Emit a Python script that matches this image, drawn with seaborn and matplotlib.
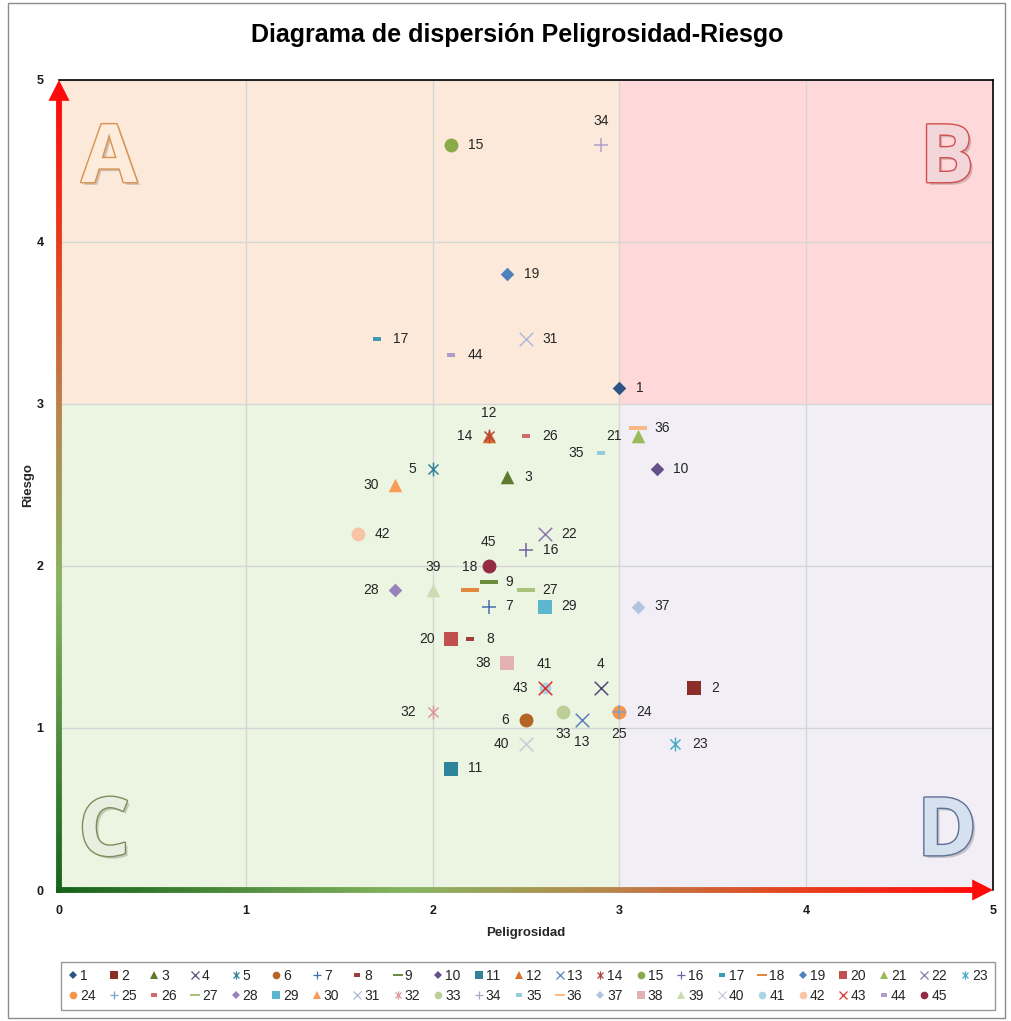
import numpy as np
import pandas as pd
import matplotlib
matplotlib.use("Agg")
import matplotlib.pyplot as plt
import seaborn as sns
from matplotlib.collections import LineCollection
from matplotlib.colors import LinearSegmentedColormap
from matplotlib.lines import Line2D
from matplotlib.path import Path
from matplotlib.patches import Rectangle
import matplotlib.patheffects as pe

# ---------------- data ----------------
ids = list(range(1, 46))
peligrosidad = [3.0, 3.4, 2.4, 2.9, 2.0, 2.5, 2.3, 2.2, 2.3, 3.2,
                2.1, 2.3, 2.8, 2.3, 2.1, 2.5, 1.7, 2.2, 2.4, 2.1,
                3.1, 2.6, 3.3, 3.0, 3.0, 2.5, 2.5, 1.8, 2.6, 1.8,
                2.5, 2.0, 2.7, 2.9, 2.9, 3.1, 3.1, 2.4, 2.0, 2.5,
                2.6, 1.6, 2.6, 2.1, 2.3]
riesgo = [3.1, 1.25, 2.55, 1.25, 2.6, 1.05, 1.75, 1.55, 1.9, 2.6,
          0.75, 2.8, 1.05, 2.8, 4.6, 2.1, 3.4, 1.85, 3.8, 1.55,
          2.8, 2.2, 0.9, 1.1, 1.1, 2.8, 1.85, 1.85, 1.75, 2.5,
          3.4, 1.1, 1.1, 4.6, 2.7, 2.85, 1.75, 1.4, 1.85, 0.9,
          1.25, 2.2, 1.25, 3.3, 2.0]
marker_kind = ["D", "s", "^", "x", "star", "o", "+", "dash", "ldash",
               "D", "s", "^", "x", "star", "o", "+", "dash", "ldash",
               "D", "s", "^", "x", "star", "o", "+", "dash", "ldash",
               "D", "s", "^", "x", "star", "o", "+", "dash", "ldash",
               "D", "s", "^", "x", "o", "o", "x", "dash", "o"]
colors = ["#2E5486", "#8C2D2A", "#5F7A2F", "#5A4A78", "#31859C", "#B66425",
          "#4470AA", "#A03C3A", "#6B8E3C", "#65508A", "#2F849C", "#D9712B",
          "#5B80BA", "#B5473F", "#8BAA4A", "#7962A0", "#3E9DB5", "#E3893F",
          "#4F81BD", "#C0504D", "#9BBB59", "#8E7AAD", "#4BACC6", "#F79646",
          "#7F9FD0", "#CD6C6A", "#A9C47A", "#9A82BB", "#5DB6D0", "#F89C58",
          "#AEBADB", "#DC9A98", "#BCCF98", "#AFA0CC", "#93CDDD", "#F9B88A",
          "#B3C4DE", "#E2B1B1", "#CDDBB3", "#CACAD8", "#A9D4E2", "#F8C3A6",
          "#E0312F", "#B09BCB", "#952A43"]
title = "Diagrama de dispersión Peligrosidad-Riesgo"
xlabel = "Peligrosidad"
ylabel = "Riesgo"
ticks = [0, 1, 2, 3, 4, 5]
quadrant_letters = ["A", "B", "C", "D"]

df = pd.DataFrame({"id": ids, "Peligrosidad": peligrosidad, "Riesgo": riesgo,
                   "kind": marker_kind, "color": colors})

# ---------------- styles ----------------
sns.set_style("white")
plt.rcParams["font.family"] = ["Liberation Sans", "DejaVu Sans"]

MO, LT = Path.MOVETO, Path.LINETO
star_path = Path([(0, -1), (0, 1), (-0.72, -0.72), (0.72, 0.72), (-0.72, 0.72), (0.72, -0.72)],
                 [MO, LT, MO, LT, MO, LT])
dash_path = Path([(-1, -0.45), (1, -0.45), (1, 0.45), (-1, 0.45), (-1, -0.45)],
                 [MO, LT, LT, LT, Path.CLOSEPOLY])
ldash_path = Path([(-1, -0.28), (1, -0.28), (1, 0.28), (-1, 0.28), (-1, -0.28)],
                  [MO, LT, LT, LT, Path.CLOSEPOLY])
mk = {"D": "D", "s": "s", "^": "^", "x": "x", "+": "+", "o": "o",
      "star": star_path, "dash": dash_path, "ldash": ldash_path}
msize = {"D": 48, "s": 100, "^": 95, "x": 95, "+": 95, "o": 100,
         "star": 100, "dash": 28, "ldash": 150}
mlw = {"D": 0, "s": 0, "^": 0, "x": 1.1, "+": 1.1, "o": 0,
       "star": 1.1, "dash": 0, "ldash": 0}
small_size = {41: 70}

label_pos = {5: "l", 6: "l", 14: "l", 20: "l", 21: "l", 28: "l", 30: "l", 32: "l",
             35: "l", 38: "l", 40: "l", 43: "l",
             4: "t", 12: "t", 18: "t", 34: "t", 39: "t", 41: "t", 45: "t",
             13: "b", 25: "b", 33: "b"}

W, H = 1012, 1021
fig = plt.figure(figsize=(W / 100, H / 100), dpi=100)
fig.patch.set_facecolor("white")
ax = fig.add_axes([59 / W, 131 / H, 934 / W, 810 / H])
ax.set_xlim(0, 5)
ax.set_ylim(0, 5)

# quadrant backgrounds
quad_colors = ["#FCE9DA", "#FFD9D9", "#EBF5E1", "#F1EFF5"]
quad_rects = [(0, 3, 3, 2), (3, 3, 2, 2), (0, 0, 3, 3), (3, 0, 2, 3)]
for (x0, y0, w, h), c in zip(quad_rects, quad_colors):
    ax.add_patch(Rectangle((x0, y0), w, h, facecolor=c, edgecolor="none", zorder=0))

ax.set_xticks(ticks)
ax.set_yticks(ticks)
ax.grid(True, color="#D6D6D6", linewidth=1)
ax.set_axisbelow(True)

# quadrant letters
letter_style = [
    ("A", 0.268, 4.37, "#FDEBDC", "#D9914E"),
    ("B", 4.754, 4.37, "#F3D6D9", "#D24E4E"),
    ("C", 0.241, 0.215, "#EAEEE1", "#7E8C5C"),
    ("D", 4.754, 0.215, "#D6E1EF", "#5C7093"),
]
for letter, lx, ly, fc, ec in letter_style:
    ax.text(lx, ly, letter, ha="center", va="baseline", fontsize=58, fontweight="bold",
            family=["Open Sans", "DejaVu Sans"], color=fc, zorder=1,
            path_effects=[pe.withSimplePatchShadow(offset=(2, -2), shadow_rgbFace="#000000", alpha=0.18),
                          pe.Stroke(linewidth=2.0, foreground=ec), pe.Normal()])

# scatter points
for _, r in df.iterrows():
    k = r["kind"]
    s = small_size.get(r["id"], msize[k])
    sns.scatterplot(x=[r["Peligrosidad"]], y=[r["Riesgo"]], marker=mk[k], s=s,
                    color=r["color"], edgecolor=r["color"], linewidth=mlw[k],
                    ax=ax, zorder=4, legend=False)

# data labels
for _, r in df.iterrows():
    p = label_pos.get(r["id"], "r")
    off = {"r": (12, 0), "l": (-12, 0), "t": (0, 17), "b": (0, -16)}[p]
    ha = {"r": "left", "l": "right", "t": "center", "b": "center"}[p]
    ax.annotate(str(r["id"]), (r["Peligrosidad"], r["Riesgo"]), xytext=off,
                textcoords="offset points", ha=ha, va="center", fontsize=10,
                color="#262626", zorder=5)

# spines
for s in ["left", "bottom"]:
    ax.spines[s].set_visible(False)
for s in ["top", "right"]:
    ax.spines[s].set_color("black")
    ax.spines[s].set_linewidth(1.2)

# gradient axes with arrows
cmap = LinearSegmentedColormap.from_list(
    "ax", [(0, "#16621A"), (0.38, "#86B560"), (0.6, "#B8864E"), (0.8, "#E5421F"), (1.0, "#FF0A0A")])
n = 200
yy = np.linspace(-0.02, 4.9, n)
segs = [[(0, yy[i]), (0, yy[i + 1])] for i in range(n - 1)]
lc = LineCollection(segs, colors=cmap(np.linspace(0, 1, n - 1)), linewidths=4.2,
                    clip_on=False, zorder=6, capstyle="butt")
ax.add_collection(lc)
xx = np.linspace(-0.015, 4.93, n)
segs = [[(xx[i], 0), (xx[i + 1], 0)] for i in range(n - 1)]
lc2 = LineCollection(segs, colors=cmap(np.linspace(0, 1, n - 1)), linewidths=4.2,
                     clip_on=False, zorder=6, capstyle="butt")
ax.add_collection(lc2)
ax.annotate("", xy=(0, 5), xytext=(0, 4.88),
            arrowprops=dict(arrowstyle="-|>,head_length=0.75,head_width=0.38", color="#FF0A0A",
                            lw=0, shrinkA=0, shrinkB=0, mutation_scale=20),
            annotation_clip=False, zorder=7)
ax.annotate("", xy=(5, 0), xytext=(4.9, 0),
            arrowprops=dict(arrowstyle="-|>,head_length=0.75,head_width=0.38", color="#FF0A0A",
                            lw=0, shrinkA=0, shrinkB=0, mutation_scale=20),
            annotation_clip=False, zorder=7)

# ticks and labels
ax.tick_params(axis="both", length=0, labelsize=9, labelcolor="#1A1A1A")
ax.tick_params(axis="x", pad=11)
ax.tick_params(axis="y", pad=11)
for lab in ax.get_xticklabels() + ax.get_yticklabels():
    lab.set_fontweight("bold")
ax.set_xlabel(xlabel, fontsize=9.5, fontweight="bold", labelpad=7)
ax.set_ylabel(ylabel, fontsize=9.5, fontweight="bold", labelpad=2)

fig.text(517 / W, 1 - 35 / H, title, ha="center", va="center", fontsize=18,
         fontweight="bold", color="black")

# legend (row-major order: 1..23 on first row, 24..45 on second)
handles = []
leg_ms = {"D": 4.5, "s": 5.5, "^": 5.5, "x": 5.5, "+": 6, "o": 5.5,
          "star": 6, "dash": 5, "ldash": 7}
for _, r in df.iterrows():
    k = r["kind"]
    handles.append(Line2D([0], [0], marker=mk[k], linestyle="None", color=r["color"],
                          markerfacecolor=r["color"], markeredgecolor=r["color"],
                          markeredgewidth=(0.9 if mlw[k] else 0), markersize=leg_ms[k],
                          label=str(r["id"])))
ncols = 23
ordered = []
for j in range(ncols - 1):
    ordered.append(handles[j])
    ordered.append(handles[j + ncols])
ordered.append(handles[ncols - 1])
leg = fig.legend(handles=ordered, loc="center", bbox_to_anchor=(528 / W, 35 / H),
                 ncol=ncols, fontsize=10, handlelength=0.7, handletextpad=0.15,
                 columnspacing=0.95, frameon=True, fancybox=False, borderpad=0.5,
                 labelspacing=0.45, borderaxespad=0)
leg.get_frame().set_edgecolor("#7F7F7F")
leg.get_frame().set_linewidth(1)

# outer chart border
fig.add_artist(Rectangle((8 / W, 3 / H), 997 / W, 1015 / H, transform=fig.transFigure,
                         facecolor="none", edgecolor="#8C8C8C", linewidth=1))

fig.savefig("out.png", dpi=100)
